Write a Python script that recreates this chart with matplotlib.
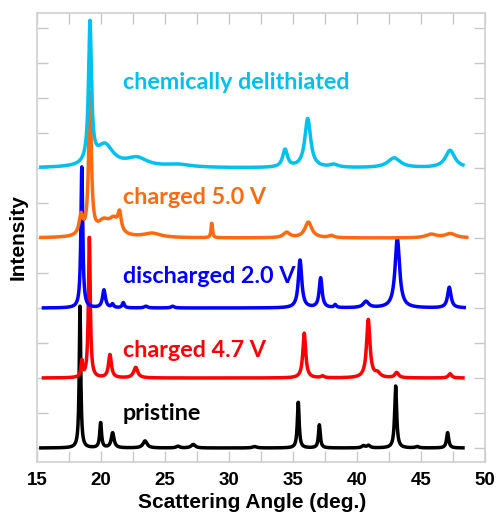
import numpy as np
import matplotlib
matplotlib.use("Agg")
import matplotlib.pyplot as plt

# ---- data ----
# each pattern: peak positions (deg), heights (offset units), FWHM (deg)
pristine_pos = [18.36, 19.97, 20.91, 23.44, 26.0, 27.2, 32.0, 35.41, 37.06, 40.5, 40.9, 43.02, 44.7, 47.08]
pristine_h   = [4.05, 0.72, 0.43, 0.20, 0.05, 0.10, 0.04, 1.32, 0.66, 0.06, 0.07, 1.77, 0.04, 0.44]
pristine_w   = [0.14, 0.17, 0.26, 0.38, 0.3, 0.38, 0.4, 0.17, 0.17, 0.3, 0.3, 0.19, 0.3, 0.2]

c47_pos = [18.5, 19.09, 20.7, 22.71, 37.3, 35.88, 40.88, 41.6, 43.1, 47.27]
c47_h   = [0.45, 4.06, 0.66, 0.30, 0.05, 1.28, 1.66, 0.12, 0.15, 0.12]
c47_w   = [0.15, 0.17, 0.27, 0.38, 0.3, 0.27, 0.32, 0.5, 0.35, 0.3]

d20_pos = [18.5, 20.23, 20.9, 21.74, 23.5, 25.6, 35.55, 37.16, 38.3, 40.7, 43.15, 47.21]
d20_h   = [4.03, 0.51, 0.10, 0.15, 0.05, 0.05, 1.37, 0.85, 0.08, 0.18, 2.00, 0.59]
d20_w   = [0.17, 0.27, 0.2, 0.2, 0.3, 0.3, 0.32, 0.27, 0.2, 0.5, 0.42, 0.32]

c50_pos = [18.44, 19.14, 20.2, 21.0, 21.45, 24.0, 28.65, 34.5, 36.2, 38.0, 45.8, 47.3]
c50_h   = [0.55, 4.02, 0.40, 0.40, 0.50, 0.12, 0.42, 0.15, 0.45, 0.06, 0.10, 0.12]
c50_w   = [0.35, 0.25, 1.2, 0.9, 0.3, 1.6, 0.13, 0.6, 0.65, 0.5, 1.0, 1.0]

chem_pos = [19.14, 20.3, 22.8, 26.0, 34.38, 36.15, 38.2, 42.9, 47.27]
chem_h   = [4.00, 0.62, 0.25, 0.08, 0.50, 1.40, 0.08, 0.28, 0.50]
chem_w   = [0.28, 1.6, 2.0, 2.5, 0.45, 0.55, 0.8, 1.2, 0.9]

ranges  = [(15.3, 48.3), (15.5, 48.3), (15.5, 48.4), (15.3, 48.6), (15.3, 48.3)]
offsets = [0, 2, 4, 6, 8]
labels  = ["pristine", "charged 4.7 V", "discharged 2.0 V", "charged 5.0 V", "chemically delithiated"]
colors  = ["#000000", "#FF0000", "#0000FF", "#FF6A10", "#00C0F0"]
label_y = [1.0, 2.8, 4.89, 7.17, 10.43]

x_ticks = [15, 20, 25, 30, 35, 40, 45, 50]

patterns = [(pristine_pos, pristine_h, pristine_w),
            (c47_pos, c47_h, c47_w),
            (d20_pos, d20_h, d20_w),
            (c50_pos, c50_h, c50_w),
            (chem_pos, chem_h, chem_w)]


def profile(x, pos, h, w):
    y = np.zeros_like(x)
    for p, a, fw in zip(pos, h, w):
        g = (fw / 2) ** 2
        y += a * g / ((x - p) ** 2 + g)
    return y


fig = plt.figure(figsize=(4.97, 5.12), dpi=100)
ax = fig.add_axes([37 / 497, 50 / 512, 448 / 497, 449 / 512])

for (pos, h, w), (x0, x1), off, col in zip(patterns, ranges, offsets, colors):
    x = np.arange(x0, x1, 0.02)
    ax.plot(x, off + profile(x, pos, h, w), color=col, lw=2.5, solid_joinstyle="round")

for lab, ly, col in zip(labels, label_y, colors):
    ax.text(21.7, ly, lab, color=col, fontsize=16.8, fontweight="bold",
            family="Lato", va="center", ha="left")

ax.set_xlim(15, 50)
ax.set_ylim(-0.4, 12.43)
ax.set_xticks(x_ticks)
ax.set_xticks(np.arange(15, 50.1, 2.5), minor=True)
ax.set_yticks(np.arange(0, 13, 1))
ax.set_yticklabels([])
ax.tick_params(axis="both", which="both", direction="in", length=8, width=1,
               color="#C8C8C8", top=True, right=True)
ax.tick_params(axis="x", labelsize=13.5, pad=7)
for lbl in ax.get_xticklabels():
    lbl.set_fontweight("bold")
    lbl.set_family("Liberation Sans")
for s in ax.spines.values():
    s.set_color("#D0D0D0")
    s.set_linewidth(1.2)

ax.set_xlabel("Scattering Angle (deg.)", fontsize=15, fontweight="bold",
              family="Liberation Sans")
ax.xaxis.set_label_coords(0.48, -0.068)
ax.xaxis.label.set_va("top")
ax.set_ylabel("Intensity", fontsize=15, fontweight="bold",
              family="Liberation Sans")
ax.yaxis.set_label_coords(-0.02, 0.5)

fig.savefig("out.png", dpi=100)
